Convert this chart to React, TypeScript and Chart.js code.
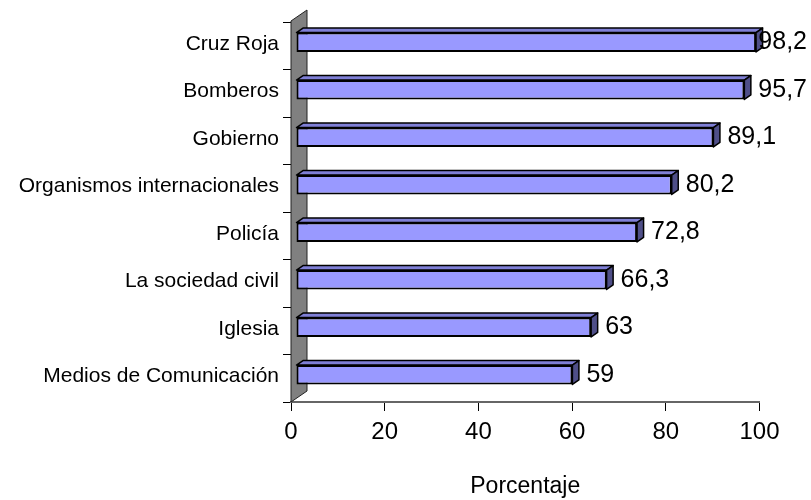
import React, { useEffect, useRef } from 'react';
import { Chart, registerables } from 'chart.js';

Chart.register(...registerables);

const categories = [
  'Cruz Roja',
  'Bomberos',
  'Gobierno',
  'Organismos internacionales',
  'Policía',
  'La sociedad civil',
  'Iglesia',
  'Medios de Comunicación',
];
const values = [98.2, 95.7, 89.1, 80.2, 72.8, 66.3, 63, 59];
const xTickValues = [0, 20, 40, 60, 80, 100];
const axisTitle = 'Porcentaje';

const FONT = "'Liberation Sans', Arial, Helvetica, sans-serif";
const BAR_SHIFT = { x: 5, y: -3.5 };
const BAR_DEPTH = { x: 6.5, y: -4.5 };
const WALL_DEPTH = { x: 16, y: -11 };

const fmt = (v: number) => String(v).replace('.', ',');

const threeD = {
  id: 'threeD',
  beforeDatasetsDraw(chart: any) {
    const { ctx, chartArea } = chart;
    const { left, top, bottom } = chartArea;
    ctx.save();
    ctx.beginPath();
    ctx.moveTo(left, top - 1);
    ctx.lineTo(left + WALL_DEPTH.x, top - 1 + WALL_DEPTH.y);
    ctx.lineTo(left + WALL_DEPTH.x, bottom + WALL_DEPTH.y);
    ctx.lineTo(left, bottom);
    ctx.closePath();
    ctx.fillStyle = '#808080';
    ctx.fill();
    ctx.strokeStyle = '#222';
    ctx.lineWidth = 1;
    ctx.stroke();
    ctx.restore();
    ctx.save();
    ctx.translate(BAR_SHIFT.x, BAR_SHIFT.y);
  },
  afterDatasetsDraw(chart: any) {
    const { ctx } = chart;
    ctx.restore();
    const meta = chart.getDatasetMeta(0);
    meta.data.forEach((bar: any, i: number) => {
      const p = bar.getProps(['x', 'y', 'base', 'height'], true);
      const x0 = p.base + BAR_SHIFT.x;
      const x1 = p.x + BAR_SHIFT.x;
      const y0 = p.y - p.height / 2 + BAR_SHIFT.y;
      const y1 = p.y + p.height / 2 + BAR_SHIFT.y;
      const dx = BAR_DEPTH.x;
      const dy = BAR_DEPTH.y;
      ctx.save();
      ctx.lineJoin = 'round';
      ctx.strokeStyle = '#000';
      ctx.lineWidth = 1.5;
      // top face
      ctx.beginPath();
      ctx.moveTo(x0, y0);
      ctx.lineTo(x0 + dx, y0 + dy);
      ctx.lineTo(x1 + dx, y0 + dy);
      ctx.lineTo(x1, y0);
      ctx.closePath();
      ctx.fillStyle = '#7f7fd6';
      ctx.fill();
      ctx.stroke();
      // right face
      ctx.beginPath();
      ctx.moveTo(x1, y0);
      ctx.lineTo(x1 + dx, y0 + dy);
      ctx.lineTo(x1 + dx, y1 + dy);
      ctx.lineTo(x1, y1);
      ctx.closePath();
      ctx.fillStyle = '#4f4f88';
      ctx.fill();
      ctx.stroke();
      // value label
      const text = fmt(values[i]);
      ctx.font = `25px ${FONT}`;
      ctx.fillStyle = '#000';
      ctx.textAlign = 'left';
      ctx.textBaseline = 'middle';
      const w = ctx.measureText(text).width;
      let lx = p.x + 19;
      if (lx + w > chart.width - 4) lx = chart.width - 4 - w;
      ctx.fillText(text, lx, p.y + BAR_SHIFT.y);
      ctx.restore();
    });
  },
};

export default function App() {
  const ref = useRef<HTMLCanvasElement | null>(null);
  useEffect(() => {
    if (!ref.current) return;
    const chart = new Chart(ref.current, {
      type: 'bar',
      data: {
        labels: categories,
        datasets: [
          {
            data: values,
            backgroundColor: '#9999ff',
            borderColor: '#000',
            borderWidth: 2,
            borderSkipped: false,
            barPercentage: 0.41,
            categoryPercentage: 1,
            clip: false as any,
          },
        ],
      },
      options: {
        indexAxis: 'y',
        animation: false,
        responsive: false,
        maintainAspectRatio: false,
        events: [],
        layout: { padding: { top: 22, right: 51.5, bottom: 0, left: 0 } },
        plugins: {
          legend: { display: false },
          tooltip: { enabled: false },
          title: { display: false },
        },
        scales: {
          x: {
            type: 'linear',
            min: 0,
            max: 100,
            afterFit: (s: any) => {
              s.height = 98;
            },
            afterBuildTicks: (s: any) => {
              s.ticks = xTickValues.map((v) => ({ value: v }));
            },
            ticks: {
              font: { family: FONT, size: 24 },
              color: '#000',
              padding: 7,
              maxRotation: 0,
            },
            grid: {
              drawOnChartArea: false,
              drawTicks: true,
              tickLength: 9,
              color: '#000',
              lineWidth: 1,
            },
            border: { display: true, color: '#666', width: 2 },
            title: {
              display: true,
              text: axisTitle,
              font: { family: FONT, size: 23 },
              color: '#000',
              padding: { top: 0, bottom: 0 },
            },
          },
          y: {
            type: 'category',
            afterFit: (s: any) => {
              s.width = 291;
            },
            ticks: {
              font: { family: FONT, size: 21 },
              color: '#000',
              padding: 4,
              labelOffset: -2,
              autoSkip: false,
            },
            grid: {
              offset: true,
              drawOnChartArea: false,
              drawTicks: true,
              tickLength: 8,
              color: '#000',
              lineWidth: 1,
            },
            border: { display: false },
          },
        },
      },
      plugins: [threeD],
    });
    return () => chart.destroy();
  }, []);
  return (
    <div style={{ position: 'fixed', left: 0, top: 0, width: 811, height: 500, background: '#fff' }}>
      <canvas ref={ref} width={811} height={500} style={{ display: 'block', width: 811, height: 500 }} />
    </div>
  );
}
